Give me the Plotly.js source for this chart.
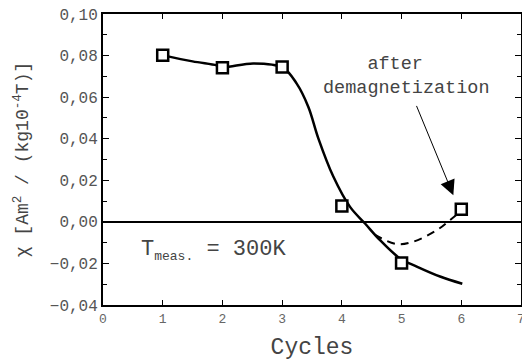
<!DOCTYPE html>
<html>
<head>
<meta charset="utf-8">
<script src="https://cdn.plot.ly/plotly-3.0.1.min.js"></script>
<style>html,body{margin:0;padding:0;background:#fff;}</style>
</head>
<body>
<div id="chart" style="width:522px;height:364px;"></div>
<script>
// measured data (cycles vs susceptibility)
const cycles = [1, 2, 3, 4, 5, 6];
const chi = [0.0801, 0.0742, 0.0745, 0.0076, -0.0198, 0.0061];

const fitX = [1.01, 1.5, 1.904, 2.015, 2.517, 3.01, 3.244, 3.439, 3.606, 3.857, 4.137, 4.388, 4.639, 4.974, 5.254, 5.644, 6.017];
const fitY = [0.0801, 0.0772, 0.0753, 0.0744, 0.0762, 0.0742, 0.0665, 0.0553, 0.0402, 0.0218, 0.0072, -0.0008, -0.0088, -0.0176, -0.0215, -0.0263, -0.0298];

// dashed curve after demagnetization
const demagX = [4.55, 4.92, 5.2, 5.59, 5.81, 5.97];
const demagY = [-0.0062, -0.0107, -0.0095, -0.0040, 0.0008, 0.0045];

const yTicks = [-0.04, -0.02, 0, 0.02, 0.04, 0.06, 0.08, 0.10];
const xTicks = [0, 1, 2, 3, 4, 5, 6, 7];

const FONT = 'Liberation Mono, Courier New, monospace';

const traces = [
  {x: fitX, y: fitY, mode: 'lines', type: 'scatter',
   line: {color: '#000', width: 2.5, shape: 'spline', smoothing: 1}, hoverinfo: 'skip'},
  {x: demagX, y: demagY, mode: 'lines', type: 'scatter',
   line: {color: '#000', width: 2, dash: '8px,6px', shape: 'spline', smoothing: 1}, hoverinfo: 'skip'},
  {x: cycles, y: chi, mode: 'markers', type: 'scatter',
   marker: {symbol: 'square', size: 11, color: '#fff', line: {color: '#000', width: 2.5}}}
];

const layout = {
  width: 522, height: 364,
  margin: {l: 103, r: 1, t: 14, b: 59},
  paper_bgcolor: '#fff', plot_bgcolor: '#fff',
  showlegend: false,
  separators: ', ',
  font: {family: FONT, color: '#444'},
  xaxis: {
    range: [0, 7], tickvals: xTicks, ticktext: xTicks.map(String),
    ticks: 'inside', ticklen: 5, tickwidth: 1, tickcolor: '#000',
    showline: true, linecolor: '#000', linewidth: 2, mirror: 'ticks',
    showgrid: false, zeroline: false, ticklabeloverflow: 'allow',
    tickfont: {family: FONT, size: 13, color: '#666'},
    title: {text: 'Cycles', font: {family: FONT, size: 23, color: '#444'}, standoff: 12}
  },
  yaxis: {
    range: [-0.04, 0.10], tickvals: yTicks, tickformat: '.2f',
    ticks: 'inside', ticklen: 6, tickwidth: 1, tickcolor: '#000',
    minor: {dtick: 0.01, ticks: 'inside', ticklen: 4, tickcolor: '#000'},
    showline: true, linecolor: '#000', linewidth: 2, mirror: 'ticks',
    showgrid: false, zeroline: true, zerolinecolor: '#000', zerolinewidth: 1.5,
    tickfont: {family: FONT, size: 16, color: '#555'},
    title: {text: 'χ [Am<sup>2</sup> / (kg10<sup>-4</sup>T)]', font: {family: FONT, size: 18, color: '#444'}, standoff: 16}
  },
  annotations: [
    {x: 5.09, y: 0.070, xref: 'x', yref: 'y', text: 'after&nbsp;&nbsp;<br>demagnetization', showarrow: false,
     font: {family: FONT, size: 18.5, color: '#444'}, align: 'center'},
    {x: 5.867, y: 0.0128, ax: 5.24, ay: 0.0565, xref: 'x', yref: 'y', axref: 'x', ayref: 'y',
     text: '', showarrow: true, arrowhead: 2, arrowsize: 3, arrowwidth: 1, arrowcolor: '#000'},
    {x: 0.6, y: -0.0136, xref: 'x', yref: 'y', xanchor: 'left', yanchor: 'middle',
     text: 'T<sub><span style="font-size:13px">meas.</span></sub> = 300K', showarrow: false,
     font: {family: FONT, size: 22, color: '#444'}}
  ]
};

Plotly.newPlot('chart', traces, layout, {staticPlot: true, displayModeBar: false});
</script>
</body>
</html>
